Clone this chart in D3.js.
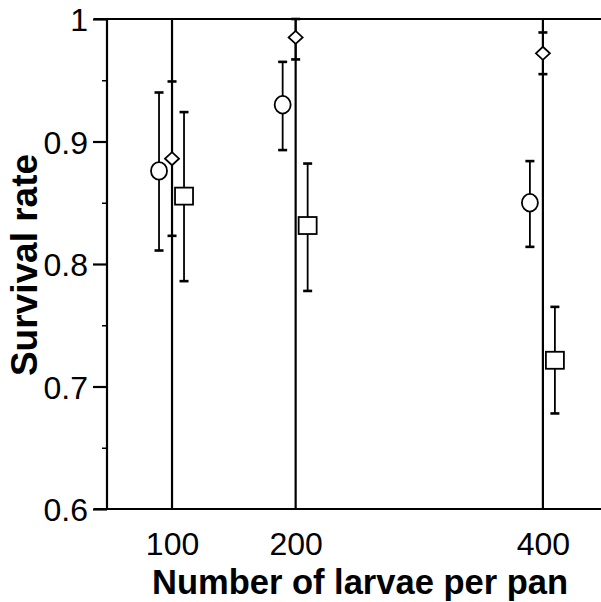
<!DOCTYPE html>
<html>
<head>
<meta charset="utf-8">
<script src="https://cdn.jsdelivr.net/npm/d3@7"></script>
<style>
  html, body { margin: 0; padding: 0; background: #fff; }
  svg { display: block; }
</style>
</head>
<body>
<svg id="chart" width="601" height="602"></svg>
<script>
// ---- data ----
const densities = [100, 200, 400];
const circleMean = [0.876, 0.930, 0.850];
const circleHi   = [0.940, 0.965, 0.884];
const circleLo   = [0.811, 0.893, 0.814];
const diamondMean = [0.886, 0.985, 0.972];
const diamondHi   = [0.949, 1.000, 0.989];
const diamondLo   = [0.823, 0.967, 0.955];
const squareMean = [0.855, 0.831, 0.721];
const squareHi   = [0.924, 0.882, 0.765];
const squareLo   = [0.786, 0.778, 0.678];
const yTicks = [0.6, 0.7, 0.8, 0.9, 1];
const yMinorTicks = [0.65, 0.75, 0.85, 0.95];
const xTickLabels = ["100", "200", "400"];

(function () {
// ---- layout ----
const svg = d3.select("#chart");
const pL = 107, pR = 601, pT = 19, pB = 509;
const x = d3.scaleLinear().domain([47.4, 447]).range([pL, pR]);
const y = d3.scaleLinear().domain([0.6, 1]).range([pB, pT]);
const font = "'Liberation Sans', Arial, Helvetica, sans-serif";

// top frame line
svg.append("line").attr("x1", 94).attr("x2", pR).attr("y1", pT).attr("y2", pT)
  .attr("stroke", "#000").attr("stroke-width", 2.2);

// y axis
const yAxis = d3.axisLeft(y).tickValues(yTicks).tickSize(14)
  .tickFormat(d => d === 1 ? "1" : d3.format(".1f")(d));
const gy = svg.append("g").attr("transform", `translate(${pL},0)`).call(yAxis);
gy.select(".domain").attr("stroke-width", 2.2).attr("d", `M0,${pT}V${pB}`);
gy.selectAll(".tick line").attr("stroke-width", 2.2);
gy.selectAll(".tick text").attr("font-family", font).attr("font-size", 32)
  .attr("fill", "#000").attr("x", -19).attr("dy", "0.36em");
const yMinor = d3.axisLeft(y).tickValues(yMinorTicks).tickSize(5).tickFormat("");
const gym = svg.append("g").attr("transform", `translate(${pL},0)`).call(yMinor);
gym.select(".domain").remove();
gym.selectAll(".tick line").attr("stroke-width", 1.5);

// x axis with full-height reference lines
const xAxis = d3.axisBottom(x).tickValues(densities).tickSize(0)
  .tickFormat((d, i) => xTickLabels[i]);
const gx = svg.append("g").attr("transform", `translate(0,${pB})`).call(xAxis);
gx.select(".domain").attr("stroke-width", 2.2).attr("d", `M${94},0H${pR}`);
gx.selectAll(".tick text").attr("font-family", font).attr("font-size", 32)
  .attr("fill", "#000").attr("y", 23).attr("dy", "0.71em");
svg.append("g").selectAll("line").data(densities).join("line")
  .attr("x1", d => x(d)).attr("x2", d => x(d))
  .attr("y1", pT).attr("y2", pB)
  .attr("stroke", "#000").attr("stroke-width", 2.2);

// axis titles
svg.append("text").attr("x", 360).attr("y", 594).attr("text-anchor", "middle")
  .attr("font-family", font).attr("font-size", 34.5).attr("font-weight", "bold")
  .text("Number of larvae per pan");
svg.append("text").attr("transform", `translate(37,265) rotate(-90)`)
  .attr("text-anchor", "middle")
  .attr("font-family", font).attr("font-size", 37).attr("font-weight", "bold")
  .text("Survival rate");

// series
const series = [
  {name: "circle", mean: circleMean, hi: circleHi, lo: circleLo, dx: -13},
  {name: "diamond", mean: diamondMean, hi: diamondHi, lo: diamondLo, dx: 0},
  {name: "square", mean: squareMean, hi: squareHi, lo: squareLo, dx: 12}
];

series.forEach(s => {
  const g = svg.append("g");
  const pts = densities.map((d, i) => ({d, m: s.mean[i], hi: s.hi[i], lo: s.lo[i]}));
  const px = p => x(p.d) + s.dx;
  g.selectAll("line.eb").data(pts).join("line").attr("class", "eb")
    .attr("x1", px).attr("x2", px)
    .attr("y1", p => y(p.hi)).attr("y2", p => y(p.lo))
    .attr("stroke", "#000").attr("stroke-width", 1.8);
  ["hi", "lo"].forEach(k => {
    g.selectAll("line.cap" + k).data(pts).join("line").attr("class", "cap" + k)
      .attr("x1", p => px(p) - 4.5).attr("x2", p => px(p) + 4.5)
      .attr("y1", p => y(p[k])).attr("y2", p => y(p[k]))
      .attr("stroke", "#000").attr("stroke-width", 2.6);
  });
  const mk = g.selectAll("g.mk").data(pts).join("g")
    .attr("transform", p => `translate(${px(p)},${y(p.m)})`);
  if (s.name === "circle") {
    mk.append("ellipse").attr("rx", 8).attr("ry", 8.8)
      .attr("fill", "#fff").attr("stroke", "#000").attr("stroke-width", 1.8);
  } else if (s.name === "diamond") {
    mk.append("path").attr("d", "M-7,0L0,-6.5L7,0L0,6.5Z")
      .attr("fill", "#fff").attr("stroke", "#000").attr("stroke-width", 1.8);
  } else {
    mk.append("rect").attr("x", -9).attr("y", -9).attr("width", 18).attr("height", 17)
      .attr("fill", "#fff").attr("stroke", "#000").attr("stroke-width", 1.8);
  }
});
})();
</script>
</body>
</html>
